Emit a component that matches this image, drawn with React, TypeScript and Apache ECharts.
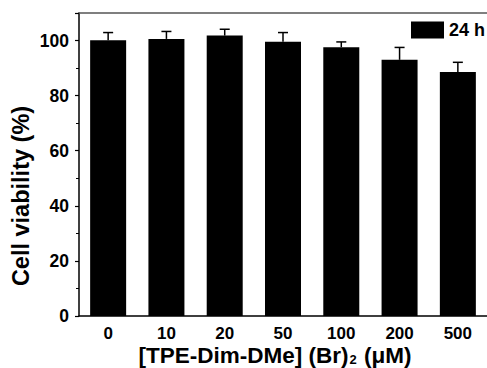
import React, { useEffect, useRef } from "react";
import * as echarts from "echarts";

const categories = ["0", "10", "20", "50", "100", "200", "500"];
const viability = [100.1, 100.6, 101.8, 99.6, 97.6, 93.0, 88.6];
const errorUp = [2.8, 2.7, 2.3, 3.3, 1.9, 4.5, 3.5];
const seriesName = "24 h";
const yTicks = { min: 0, max: 110, interval: 20 };

const FONT = "'Liberation Sans', Arial, Helvetica, sans-serif";

export default function App() {
  const ref = useRef<HTMLDivElement>(null);
  useEffect(() => {
    if (!ref.current) return;
    const chart = echarts.init(ref.current, null, { renderer: "svg" });
    const errData = categories.map((_, i) => [i, viability[i], viability[i] + errorUp[i]]);
    chart.setOption({
      animation: false,
      backgroundColor: "#ffffff",
      grid: { left: 79, top: 13, right: 0, bottom: 52, containLabel: false },
      legend: {
        data: [{ name: seriesName, icon: "rect" }],
        left: 411,
        top: 21,
        padding: 0,
        itemWidth: 33,
        itemHeight: 17,
        textStyle: { fontFamily: FONT, fontWeight: "bold", fontSize: 18, color: "#000" },
      },
      xAxis: [
        {
          type: "category",
          data: categories,
          axisLine: { lineStyle: { color: "#000", width: 1.5 } },
          axisTick: { show: false },
          axisLabel: {
            fontFamily: FONT,
            fontWeight: "bold",
            fontSize: 17,
            lineHeight: 16,
            color: "#000",
            margin: 9,
          },
        },
        {
          type: "category",
          data: categories,
          position: "top",
          axisLine: { lineStyle: { color: "#555", width: 1.5 } },
          axisTick: { show: false },
          axisLabel: { show: false },
        },
      ],
      yAxis: {
        type: "value",
        min: yTicks.min,
        max: yTicks.max,
        interval: yTicks.interval,
        axisLine: { show: true, lineStyle: { color: "#000", width: 1.5 } },
        axisTick: { show: true, length: 4, lineStyle: { color: "#000", width: 1.2 } },
        minorTick: { show: true, splitNumber: 2, length: 3, lineStyle: { color: "#000", width: 1 } },
        splitLine: { show: false },
        axisLabel: {
          fontFamily: FONT,
          fontWeight: "bold",
          fontSize: 17.5,
          color: "#000",
          margin: 10,
          showMaxLabel: false,
        },
      },
      series: [
        {
          name: seriesName,
          type: "bar",
          data: viability,
          barWidth: 36,
          itemStyle: { color: "#000" },
        },
        {
          type: "custom",
          data: errData,
          z: 5,
          renderItem: (params: any, api: any) => {
            const idx = api.value(0);
            const base = api.coord([idx, api.value(1)]);
            const top = api.coord([idx, api.value(2)]);
            const hw = 5;
            return {
              type: "group",
              children: [
                {
                  type: "line",
                  shape: { x1: base[0], y1: base[1], x2: top[0], y2: top[1] },
                  style: { stroke: "#000", lineWidth: 1.5 },
                },
                {
                  type: "line",
                  shape: { x1: top[0] - hw, y1: top[1], x2: top[0] + hw, y2: top[1] },
                  style: { stroke: "#000", lineWidth: 1.5 },
                },
              ],
            };
          },
        },
      ],
      graphic: [
        {
          type: "text",
          x: 21,
          y: 196,
          rotation: Math.PI / 2,
          style: {
            text: "Cell viability (%)",
            fontFamily: FONT,
            fontWeight: "bold",
            fontSize: 23.5,
            fill: "#000",
            align: "center",
            verticalAlign: "middle",
          },
        },
        {
          type: "text",
          x: 275,
          y: 355,
          style: {
            text: "{a|[TPE-Dim-DMe] (Br)}{s|2}{a| (μM)}",
            align: "center",
            verticalAlign: "middle",
            rich: {
              a: {
                fontFamily: FONT,
                fontWeight: "bold",
                fontSize: 22.5,
                lineHeight: 21,
                fill: "#000",
                color: "#000",
              },
              s: {
                fontFamily: FONT,
                fontWeight: "bold",
                fontSize: 13,
                lineHeight: 13,
                fill: "#000",
                color: "#000",
                verticalAlign: "bottom",
                padding: [6, 1, 0, 1],
              },
            },
          },
        },
      ],
    });
    return () => chart.dispose();
  }, []);
  return <div ref={ref} style={{ width: 487, height: 368, position: "absolute", left: 0, top: 0 }} />;
}
